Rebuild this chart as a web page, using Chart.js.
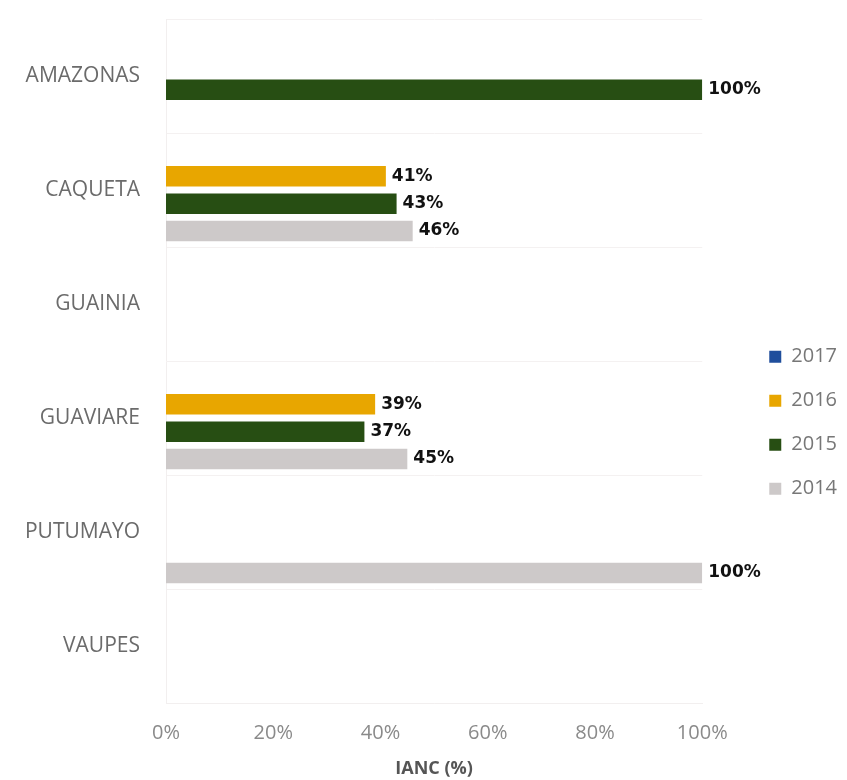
<!DOCTYPE html>
<html>
<head>
<meta charset="utf-8">
<script src="https://cdn.jsdelivr.net/npm/chart.js@4"></script>
<style>
  html, body { margin: 0; padding: 0; background: #fff; }
  #wrap { width: 847px; height: 780px; }
</style>
</head>
<body>
<div id="wrap"><canvas id="iancChart"></canvas></div>
<script>
var departments = ['AMAZONAS', 'CAQUETA', 'GUAINIA', 'GUAVIARE', 'PUTUMAYO', 'VAUPES'];
var ianc2017 = [null, null, null, null, null, null];
var ianc2016 = [null, 41, null, 39, null, null];
var ianc2015 = [100, 43, null, 37, null, null];
var ianc2014 = [null, 46, null, 45, 100, null];
var xTicks = [0, 20, 40, 60, 80, 100];

var colors = {
  y2017: '#1f4e9c',
  y2016: '#e8a600',
  y2015: '#274e13',
  y2014: '#cdc9c9'
};

var legendShift = 43;

// draws the "41%" style labels at the end of every bar
var barValueLabels = {
  id: 'barValueLabels',
  afterDatasetsDraw: function(chart) {
    var ctx = chart.ctx;
    ctx.save();
    ctx.font = 'bold 17px "DejaVu Sans"';
    ctx.fillStyle = '#111';
    ctx.textAlign = 'left';
    ctx.textBaseline = 'middle';
    chart.data.datasets.forEach(function(ds, i) {
      var meta = chart.getDatasetMeta(i);
      meta.data.forEach(function(bar, j) {
        if (ds.data[j] === null) return;
        ctx.fillText(ds.data[j] + '%', bar.x + 6, bar.y);
      });
    });
    ctx.restore();
  }
};

// keep a gap between plot and legend without moving the legend itself
var legendNudge = {
  id: 'legendNudge',
  afterLayout: function(chart) {
    chart.legend.left += legendShift;
    chart.legend.right += legendShift;
  }
};

var makeDataset = function(label, data, color) {
  return {
    label: label,
    data: data,
    backgroundColor: color,
    borderWidth: 0,
    categoryPercentage: 0.96,
    barPercentage: 0.75
  };
};

new Chart(document.getElementById('iancChart').getContext('2d'), {
  type: 'bar',
  data: {
    labels: departments,
    datasets: [
      makeDataset('2017', ianc2017, colors.y2017),
      makeDataset('2016', ianc2016, colors.y2016),
      makeDataset('2015', ianc2015, colors.y2015),
      makeDataset('2014', ianc2014, colors.y2014)
    ]
  },
  options: {
    indexAxis: 'y',
    responsive: true,
    maintainAspectRatio: false,
    animation: false,
    layout: { padding: { top: 19, right: legendShift, left: 0, bottom: 0 } },
    scales: {
      x: {
        min: 0,
        max: 100,
        afterBuildTicks: function(axis) {
          axis.ticks = xTicks.map(function(v) { return { value: v }; });
        },
        afterFit: function(axis) {
          axis.height = 77;
        },
        grid: { display: false, drawTicks: false },
        border: { display: true, color: '#f2efef' },
        ticks: {
          padding: 18,
          color: '#8a8a8a',
          font: { family: 'Open Sans', size: 20 },
          callback: function(v) { return v + '%'; }
        },
        title: {
          display: true,
          text: 'IANC (%)',
          color: '#555',
          font: { family: 'Open Sans', size: 18, weight: 'bold' },
          padding: { top: 12, bottom: 0 }
        }
      },
      y: {
        afterFit: function(axis) {
          axis.width = 166;
          axis.paddingTop = 0;
          axis.paddingBottom = 0;
        },
        grid: { display: true, offset: true, color: '#f4f1f1', drawTicks: false },
        border: { display: true, color: '#f2efef' },
        ticks: {
          padding: 26,
          color: '#6b6b6b',
          font: { family: 'Open Sans', size: 21 }
        }
      }
    },
    plugins: {
      legend: {
        position: 'right',
        title: {
          display: true,
          text: ' ',
          font: { size: 12 },
          padding: { top: 32, bottom: 0 }
        },
        labels: {
          boxWidth: 12,
          boxHeight: 12,
          padding: 24,
          color: '#777',
          font: { family: 'Open Sans', size: 20 }
        }
      },
      tooltip: { enabled: false }
    }
  },
  plugins: [barValueLabels, legendNudge]
});
</script>
</body>
</html>
